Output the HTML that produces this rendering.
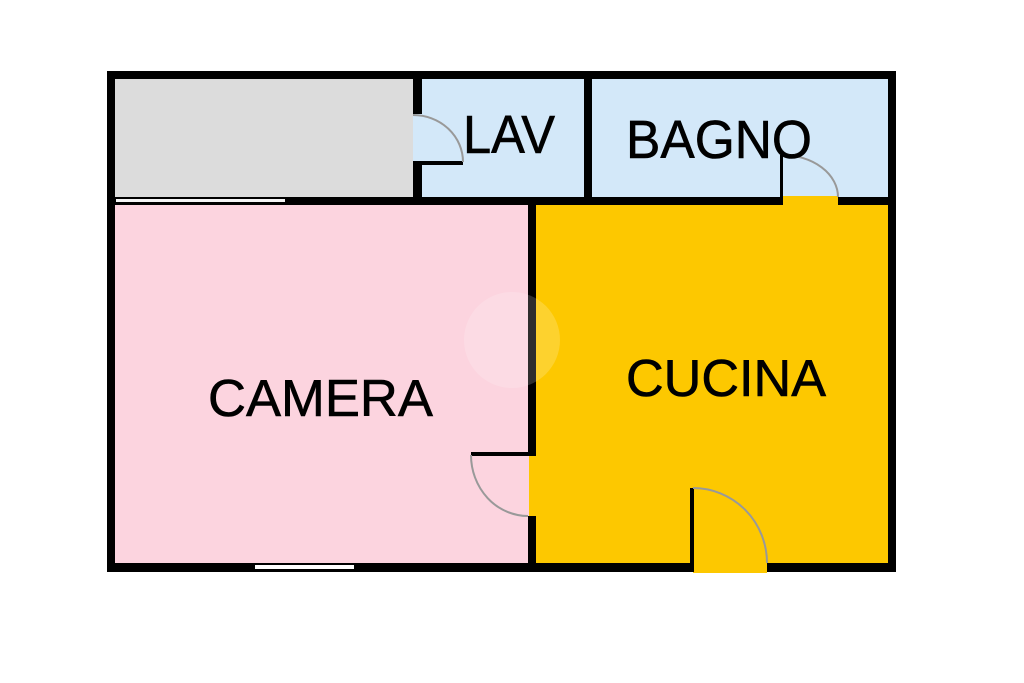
<!DOCTYPE html>
<html><head><style>
html,body{margin:0;padding:0;background:#fff;}
svg{display:block;}
text{font-family:"Liberation Sans",Arial,sans-serif;fill:#000;}
</style></head><body>
<svg width="1024" height="683" viewBox="0 0 1024 683">
<rect width="1024" height="683" fill="#fff"/>
<rect x="107" y="71" width="789" height="501" fill="#000"/>
<rect x="115" y="79" width="298" height="118" fill="#dcdcdc"/>
<rect x="422" y="79" width="162" height="118" fill="#d3e8f9"/>
<rect x="592" y="79" width="296" height="118" fill="#d3e8f9"/>
<rect x="115" y="205" width="413" height="358" fill="#fcd4df"/>
<rect x="536" y="205" width="352" height="358" fill="#fdc800"/>
<rect x="413" y="114" width="9" height="48" fill="#d3e8f9"/>
<rect x="413" y="161" width="50" height="4" fill="#000"/>
<path d="M413 115 A50 47 0 0 1 463 162" fill="none" stroke="#999" stroke-width="2"/>
<rect x="782" y="196" width="56" height="9" fill="#fdc800"/>
<rect x="780" y="155" width="3" height="50" fill="#000"/>
<path d="M782 155 A56 42 0 0 1 838 197" fill="none" stroke="#999" stroke-width="2"/>
<rect x="528" y="455" width="8" height="61" fill="#fdc800"/>
<rect x="528" y="455" width="1" height="61" fill="#fcd4df"/>
<rect x="471" y="452" width="65" height="4" fill="#000"/>
<path d="M471 455 A57 61 0 0 0 528 516" fill="none" stroke="#999" stroke-width="2"/>
<rect x="693" y="562" width="74" height="11" fill="#fdc800"/>
<rect x="690" y="488" width="4" height="84" fill="#000"/>
<path d="M693 488 A74 75 0 0 1 767 563" fill="none" stroke="#999" stroke-width="2"/>
<rect x="116" y="199" width="169" height="3" fill="#f4f4f4"/>
<rect x="255" y="565" width="99" height="4" fill="#fff"/>
<circle cx="512" cy="340" r="48" fill="#fff" opacity="0.18"/>
<text x="463" y="153" font-size="54" textLength="92" lengthAdjust="spacingAndGlyphs" stroke="#000" stroke-width="0.6">LAV</text>
<text x="626" y="158" font-size="54" textLength="186" lengthAdjust="spacingAndGlyphs" stroke="#000" stroke-width="0.6">BAGNO</text>
<text x="208" y="416" font-size="52" textLength="225" lengthAdjust="spacingAndGlyphs" stroke="#000" stroke-width="0.6">CAMERA</text>
<text x="626" y="396" font-size="52" textLength="200" lengthAdjust="spacingAndGlyphs" stroke="#000" stroke-width="0.6">CUCINA</text>
</svg>
</body></html>
